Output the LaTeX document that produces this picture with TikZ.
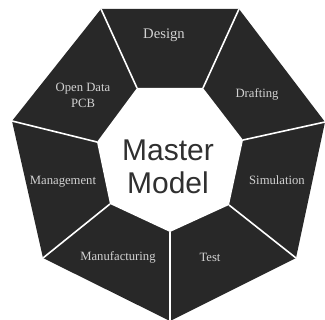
\documentclass[tikz,border=0pt]{standalone}
\usepackage{fontspec}
\setmainfont{Liberation Serif}
\newfontfamily\mastersans{Liberation Sans}

\definecolor{segdark}{RGB}{40,40,40}
\definecolor{labelgray}{RGB}{210,210,210}
\definecolor{mastergray}{RGB}{48,48,48}

\tikzset{
	seglabel/.style={text=labelgray, font=\fontsize{9.5}{12}\selectfont, inner sep=0.75pt, align=center},
	divider/.style={draw=white, line width=1.2pt},
}

\begin{document}
\begin{tikzpicture}[x=0.75pt,y=0.75pt,yscale=-1,xscale=1]

	\useasboundingbox (0,0) rectangle (325,320);

	%%OUTER HEPTAGON---------------------------------------------
	\coordinate (o1) at (101,9);
	\coordinate (o2) at (239,9);
	\coordinate (o3) at (325,122);
	\coordinate (o4) at (296,258);
	\coordinate (o5) at (170,321);
	\coordinate (o6) at (43,258);
	\coordinate (o7) at (12,121);
	\fill [segdark] (o1) -- (o2) -- (o3) -- (o4) -- (o5) -- (o6) -- (o7) -- cycle;

	%%INNER HEPTAGON---------------------------------------------
	\coordinate (i1) at (137,88);
	\coordinate (i2) at (203,88);
	\coordinate (i3) at (243,140);
	\coordinate (i4) at (229,205);
	\coordinate (i5) at (170,232);
	\coordinate (i6) at (110,204);
	\coordinate (i7) at (97,142);
	\fill [white] (i1) -- (i2) -- (i3) -- (i4) -- (i5) -- (i6) -- (i7) -- cycle;

	%%dividers
	\draw [divider] (i1) -- (o1);
	\draw [divider] (i2) -- (o2);
	\draw [divider] (i3) -- (o3);
	\draw [divider] (i4) -- (o4);
	\draw [divider] (i5) -- (o5);
	\draw [divider] (i6) -- (o6);
	\draw [divider] (i7) -- (o7);

	% Centre text
	\node (master) at (168,150) [text=mastergray, font=\mastersans\fontsize{22.5}{24}\selectfont, inner sep=0pt] {Master};
	\node (model) at (168,183) [text=mastergray, font=\mastersans\fontsize{22.5}{24}\selectfont, inner sep=0pt] {Model};

	% Segment labels
	\node (design) at (164,35) [seglabel, font=\fontsize{11}{13}\selectfont] {Design};
	\node (drafting) at (257,94) [seglabel] {Drafting};
	\node (simulation) at (277,180) [seglabel] {Simulation};
	\node (test) at (210,257) [seglabel] {Test};
	\node (manufacturing) at (118,257) [seglabel] {Manufacturing};
	\node (management) at (63,182) [seglabel] {Management};
	\node (opendata) at (83,95) [seglabel] {Open Data\\PCB};

\end{tikzpicture}
\end{document}
